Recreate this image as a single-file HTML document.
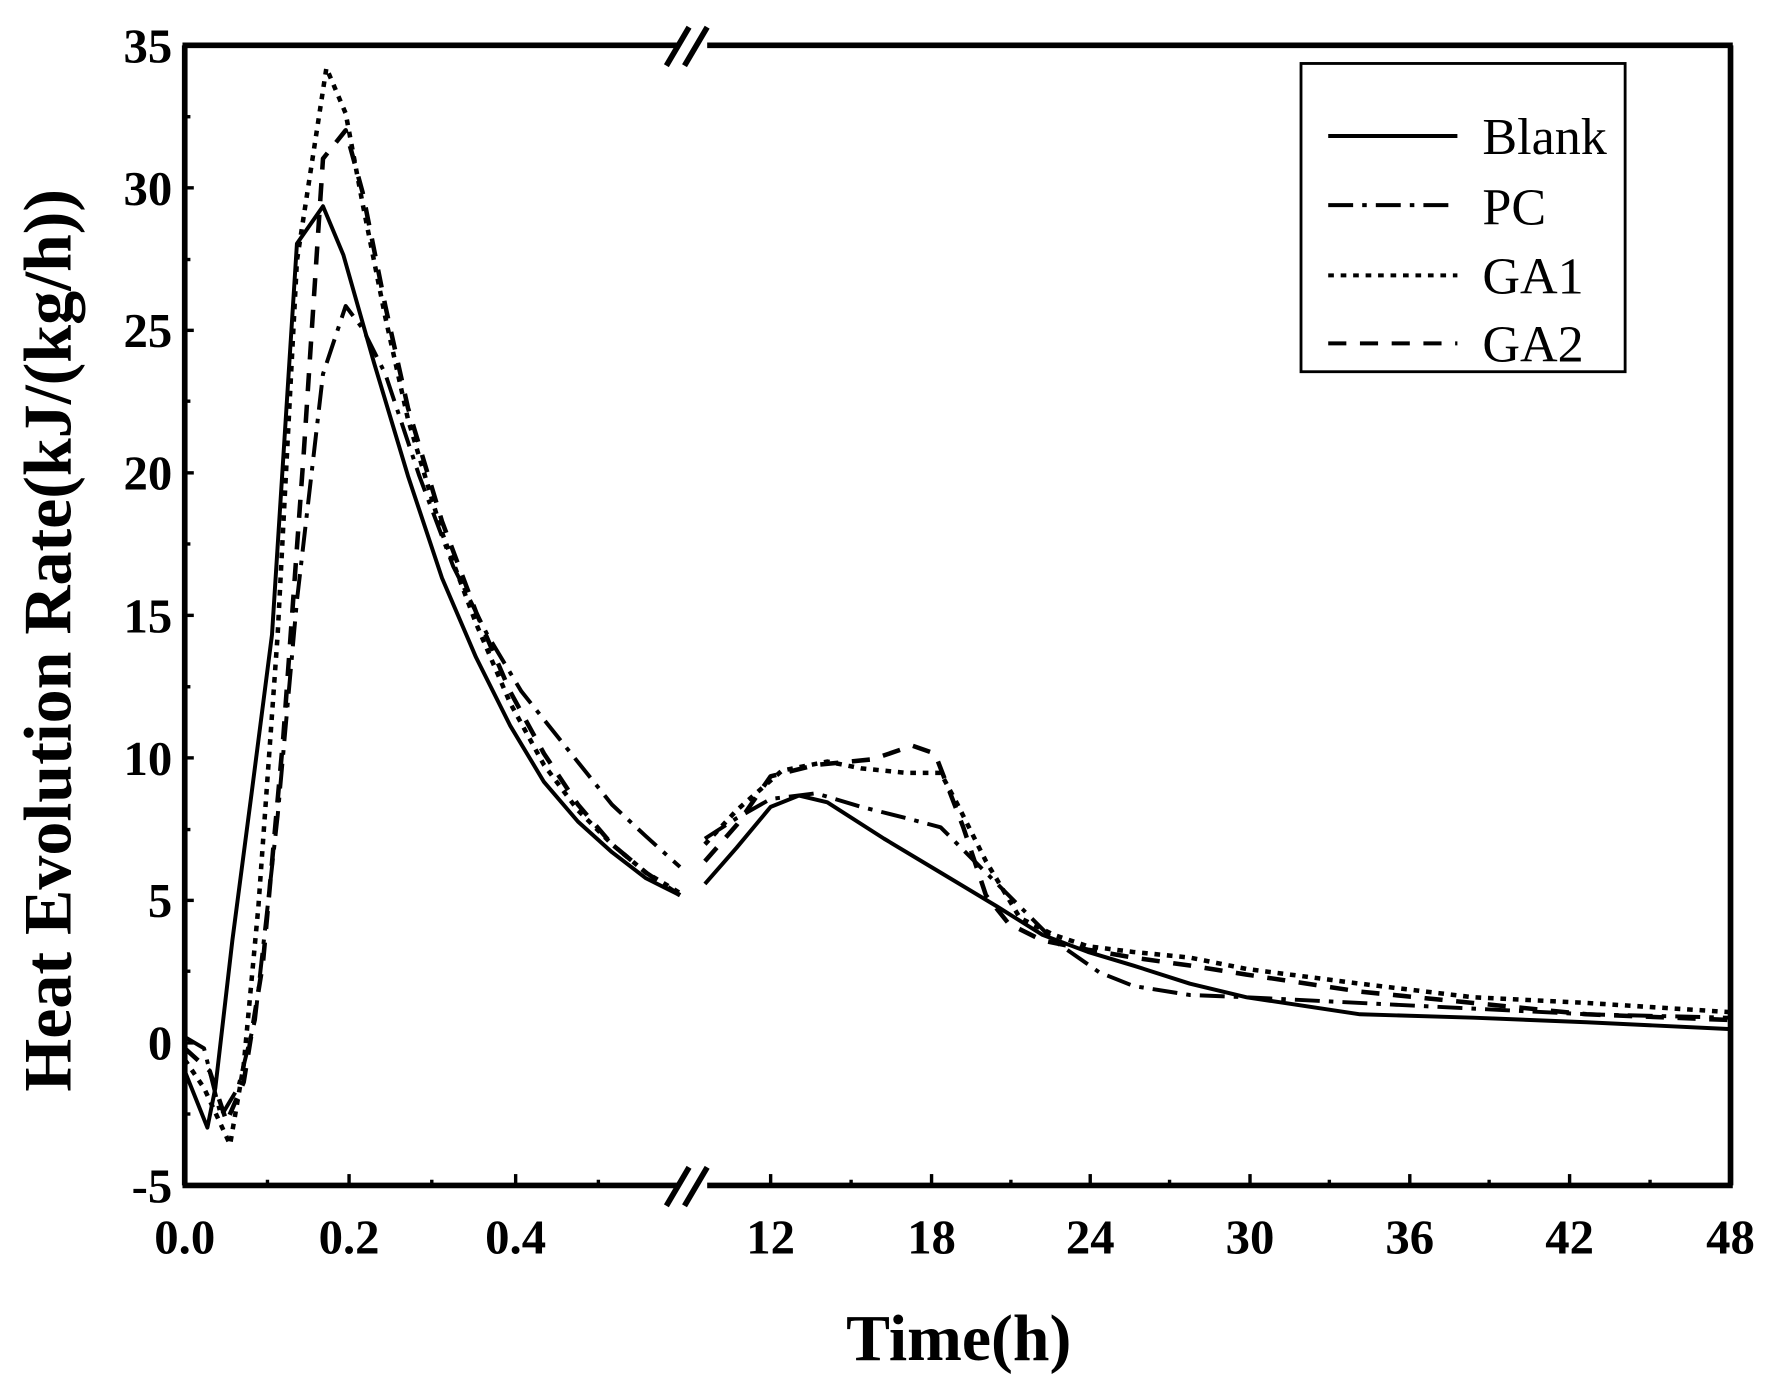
<!DOCTYPE html>
<html><head><meta charset="utf-8"><style>html,body{margin:0;padding:0;background:#fff}svg{display:block}</style></head>
<body>
<svg width="1777" height="1392" viewBox="0 0 1568 1228.3" xmlns="http://www.w3.org/2000/svg" font-family="Liberation Serif, serif">
<rect x="0" y="0" width="1568" height="1228.3" fill="#fff"/>
<g fill="none" stroke="#000" stroke-linejoin="round">
<polyline stroke-width="3.5" points="163,945 183,995 190,960 205,830 222,700 240,560 262,215 285,182 303,225 330,320 360,420 390,510 420,580 450,640 480,690 510,725 540,752 570,775 600,790"/>
<polyline stroke-width="3.5" points="622,780 650,748 680,712 705,702 730,708 780,740 830,770 880,800 920,825 960,840 1000,852 1050,868 1100,880 1200,895 1300,898 1400,902 1525,908"/>
<polyline stroke-width="3.5" stroke-dasharray="22,8,4,8" points="163,915 180,925 195,985 210,960 225,900 245,720 262,530 285,330 305,270 320,290 340,330 370,420 400,500 430,560 460,610 500,660 540,710 570,738 600,765"/>
<polyline stroke-width="3.5" stroke-dasharray="22,8,4,8" points="622,740 650,722 680,705 720,700 760,712 800,722 830,730 860,760 900,800 930,830 970,858 1000,870 1050,878 1100,880 1200,885 1300,890 1400,895 1525,898"/>
<polyline stroke-width="4" stroke-dasharray="5,6" points="163,935 180,960 203,1010 215,940 228,800 245,560 262,230 288,60 305,100 320,180 340,280 360,370 390,470 420,550 450,620 480,675 510,715 540,745 570,770 600,788"/>
<polyline stroke-width="4" stroke-dasharray="5,6" points="622,745 650,715 690,680 730,672 760,678 800,682 830,682 845,710 870,760 900,810 930,825 960,835 1000,840 1050,845 1100,855 1200,868 1300,880 1400,885 1525,893"/>
<polyline stroke-width="4" stroke-dasharray="16,12" points="163,925 185,945 200,990 215,955 232,850 250,650 268,400 285,140 305,115 320,170 340,270 360,360 390,460 420,540 450,610 480,665 510,710 540,745 570,770 600,790"/>
<polyline stroke-width="4" stroke-dasharray="16,12" points="622,760 650,728 680,685 720,675 770,670 805,658 825,665 850,730 870,790 890,815 920,830 960,838 1000,845 1050,852 1100,860 1200,875 1300,885 1400,895 1525,900"/>
</g>
<g stroke="#000" stroke-width="5" fill="none">
<line x1="163" y1="40" x2="163" y2="1046"/>
<line x1="1527" y1="40" x2="1527" y2="1046"/>
<line x1="161" y1="40" x2="600" y2="40"/>
<line x1="624" y1="40" x2="1529" y2="40"/>
<line x1="161" y1="1046" x2="600" y2="1046"/>
<line x1="624" y1="1046" x2="1529" y2="1046"/>
<line x1="588" y1="58" x2="608" y2="24"/><line x1="604" y1="58" x2="624" y2="24"/>
<line x1="588" y1="1064" x2="608" y2="1030"/><line x1="604" y1="1064" x2="624" y2="1030"/>
</g>
<g stroke="#000" stroke-width="3">
<line x1="163" y1="165.75" x2="171" y2="165.75"/><line x1="163" y1="291.5" x2="171" y2="291.5"/><line x1="163" y1="417.25" x2="171" y2="417.25"/><line x1="163" y1="543" x2="171" y2="543"/><line x1="163" y1="668.75" x2="171" y2="668.75"/><line x1="163" y1="794.5" x2="171" y2="794.5"/><line x1="163" y1="920.25" x2="171" y2="920.25"/>
<line x1="163" y1="103" x2="168" y2="103"/><line x1="163" y1="229" x2="168" y2="229"/><line x1="163" y1="354" x2="168" y2="354"/><line x1="163" y1="480" x2="168" y2="480"/><line x1="163" y1="606" x2="168" y2="606"/><line x1="163" y1="732" x2="168" y2="732"/><line x1="163" y1="857" x2="168" y2="857"/><line x1="163" y1="983" x2="168" y2="983"/>
<line x1="308" y1="1046" x2="308" y2="1036"/><line x1="455" y1="1046" x2="455" y2="1036"/>
<line x1="236" y1="1046" x2="236" y2="1041"/><line x1="381" y1="1046" x2="381" y2="1041"/><line x1="528" y1="1046" x2="528" y2="1041"/>
<line x1="680" y1="1046" x2="680" y2="1036"/><line x1="822" y1="1046" x2="822" y2="1036"/><line x1="962" y1="1046" x2="962" y2="1036"/><line x1="1103" y1="1046" x2="1103" y2="1036"/><line x1="1244" y1="1046" x2="1244" y2="1036"/><line x1="1385" y1="1046" x2="1385" y2="1036"/>
<line x1="751" y1="1046" x2="751" y2="1041"/><line x1="892" y1="1046" x2="892" y2="1041"/><line x1="1032" y1="1046" x2="1032" y2="1041"/><line x1="1173" y1="1046" x2="1173" y2="1041"/><line x1="1314" y1="1046" x2="1314" y2="1041"/><line x1="1456" y1="1046" x2="1456" y2="1041"/>
</g>
<g font-weight="bold" font-size="43" fill="#000">
<g text-anchor="end">
<text x="152" y="55">35</text><text x="152" y="181">30</text><text x="152" y="306">25</text><text x="152" y="432">20</text><text x="152" y="558">15</text><text x="152" y="684">10</text><text x="152" y="809">5</text><text x="152" y="935">0</text><text x="152" y="1061">-5</text>
</g>
<g text-anchor="middle">
<text x="163" y="1106">0.0</text><text x="308" y="1106">0.2</text><text x="455" y="1106">0.4</text>
<text x="680" y="1106">12</text><text x="822" y="1106">18</text><text x="962" y="1106">24</text><text x="1103" y="1106">30</text><text x="1244" y="1106">36</text><text x="1385" y="1106">42</text><text x="1527" y="1106">48</text>
</g>
<text x="846" y="1200" text-anchor="middle" font-size="58">Time(h)</text>
<text transform="translate(62,565) rotate(-90)" text-anchor="middle" font-size="60">Heat Evolution Rate(kJ/(kg/h))</text>
</g>
<rect x="1148" y="56" width="286" height="272" fill="#fff" stroke="#000" stroke-width="2.5"/>
<g stroke="#000" stroke-width="3.5">
<line x1="1172" y1="120" x2="1286" y2="120"/>
<line x1="1172" y1="181" x2="1286" y2="181" stroke-dasharray="22,8,4,8"/>
<line x1="1172" y1="243" x2="1286" y2="243" stroke-dasharray="5,6"/>
<line x1="1172" y1="303" x2="1286" y2="303" stroke-dasharray="16,12"/>
</g>
<g font-size="46" fill="#000">
<text x="1308" y="136">Blank</text><text x="1308" y="198">PC</text><text x="1308" y="259">GA1</text><text x="1308" y="319">GA2</text>
</g>
</svg>
</body></html>
